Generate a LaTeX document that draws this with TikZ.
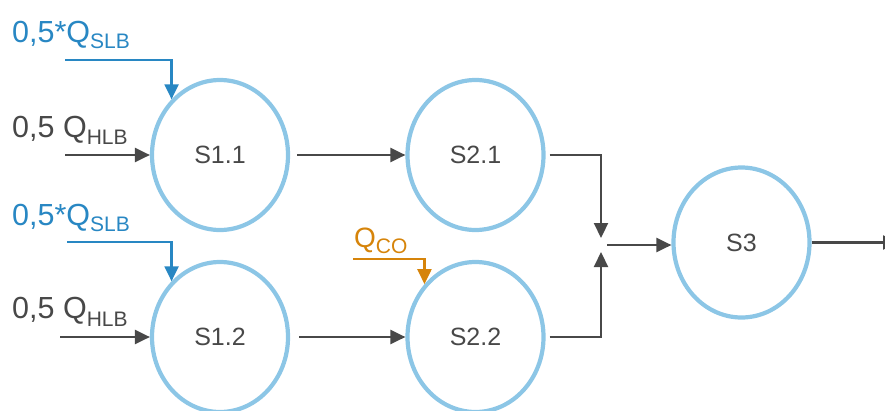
\documentclass[tikz,border=0pt]{standalone}
\usepackage{fontspec}
\setmainfont{Liberation Sans}
\usetikzlibrary{shapes.geometric,arrows.meta}
\definecolor{ringblue}{RGB}{140,198,230}
\definecolor{slbblue}{RGB}{40,135,195}
\definecolor{darkgray}{RGB}{72,72,72}
\definecolor{coorange}{RGB}{214,132,10}
\newcommand{\subtxt}[2]{\raisebox{#1}{\fontsize{21}{21}\selectfont #2}}
\tikzset{
  stage/.style={ellipse, draw=ringblue, line width=4.2pt, minimum width=136pt,
    minimum height=150pt, inner sep=0pt, text=darkgray, font=\fontsize{25}{25}\selectfont},
  flow/.style={draw=darkgray, line width=2.2pt, -{Triangle[length=15pt,width=14pt]}},
  slbflow/.style={flow, draw=slbblue},
  coflow/.style={flow, draw=coorange},
  lbl/.style={anchor=base west, inner sep=0pt, font=\fontsize{30.5}{30.5}\selectfont}
}
\begin{document}
\begin{tikzpicture}[x=1pt,y=-1pt]
\useasboundingbox (0,0) rectangle (885,410);
\node[stage] (s11) at (220,155) {S1.1};
\node[stage] (s21) at (475.5,155) {S2.1};
\node[stage] (s12) at (220,337) {S1.2};
\node[stage] (s22) at (475.5,337) {S2.2};
\node[stage] (s3) at (741.5,242.5) {S3};

% labels
\node[lbl, text=slbblue] (lslb1) at (12,42) {0,5*Q\subtxt{-6pt}{SLB}};
\node[lbl, text=darkgray] (lhlb1) at (12,137) {0,5 Q\subtxt{-7pt}{HLB}};
\node[lbl, text=slbblue] (lslb2) at (12,225) {0,5*Q\subtxt{-6pt}{SLB}};
\node[lbl, text=darkgray] (lhlb2) at (12,318) {0,5 Q\subtxt{-8pt}{HLB}};
\node[lbl, text=coorange, font=\fontsize{28}{28}\selectfont] (lco) at (354,247) {Q\subtxt{-6pt}{CO}};

% input coordinates
\coordinate (slb1) at (65,60);
\coordinate (hlb1) at (65,155);
\coordinate (slb2) at (67,242);
\coordinate (hlb2) at (60,337);
\coordinate (co) at (353,259);
\coordinate (m) at (601,245);
\coordinate (out) at (898,242.5);

\draw[slbflow] (slb1) -| (s11.131);
\draw[flow] (hlb1) -- (s11.west);
\draw[slbflow] (slb2) -| (s12.131);
\draw[flow] (hlb2) -- (s12.west);
\draw[coflow] (co) -| (s22.134);

\draw[flow, shorten <=7pt] (s11) -- (s21);
\draw[flow, shorten <=9pt] (s12) -- (s22);
\draw[flow, shorten <=4pt, shorten >=7pt] (s21.east) -| (m);
\draw[flow, shorten <=4pt, shorten >=7pt] (s22.east) -| (m);
\draw[flow, shorten <=6pt] (m) -- (m -| s3.west);
\draw[flow] (s3.east) -- (out);
\end{tikzpicture}
\end{document}
